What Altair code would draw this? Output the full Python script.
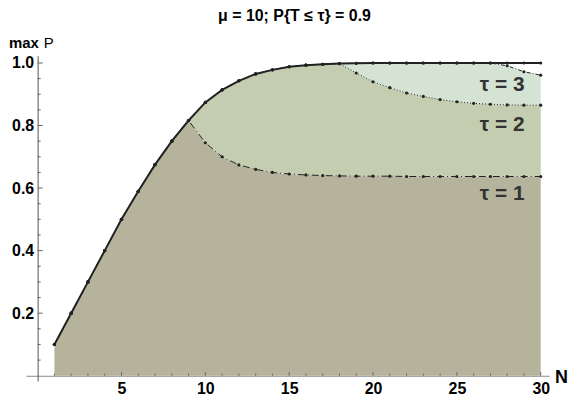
import altair as alt
import pandas as pd

# ---- data ----
N = list(range(1, 31))
p_upper = [0.100, 0.200, 0.300, 0.400, 0.500, 0.590, 0.675, 0.750, 0.816, 0.874,
           0.914, 0.943, 0.965, 0.978, 0.988, 0.993, 0.996, 0.998, 0.999, 1.000,
           1.000, 1.000, 1.000, 1.000, 1.000, 1.000, 1.000, 1.000, 1.000, 1.000]
p_tau1 = [0.100, 0.200, 0.300, 0.400, 0.500, 0.590, 0.675, 0.750, 0.816, 0.745,
          0.700, 0.674, 0.660, 0.650, 0.645, 0.642, 0.640, 0.639, 0.638, 0.638,
          0.638, 0.637, 0.637, 0.637, 0.637, 0.637, 0.637, 0.637, 0.637, 0.637]
p_tau2 = [0.100, 0.200, 0.300, 0.400, 0.500, 0.590, 0.675, 0.750, 0.816, 0.874,
          0.914, 0.943, 0.965, 0.978, 0.988, 0.993, 0.996, 0.998, 0.968, 0.940,
          0.921, 0.904, 0.893, 0.883, 0.876, 0.871, 0.868, 0.866, 0.865, 0.865]
p_tau3 = [0.100, 0.200, 0.300, 0.400, 0.500, 0.590, 0.675, 0.750, 0.816, 0.874,
          0.914, 0.943, 0.965, 0.978, 0.988, 0.993, 0.996, 0.998, 0.999, 1.000,
          1.000, 1.000, 1.000, 1.000, 1.000, 1.000, 1.000, 0.991, 0.972, 0.961]

x_major = [5, 10, 15, 20, 25, 30]
x_minor = [n for n in range(1, 31) if n % 5 != 0]
y_major = [0.2, 0.4, 0.6, 0.8, 1.0]
y_minor = [0.05, 0.10, 0.15, 0.25, 0.30, 0.35, 0.45, 0.50, 0.55, 0.65, 0.70,
           0.75, 0.85, 0.90, 0.95]

tau_labels = ["τ = 1", "τ = 2", "τ = 3"]
tau_label_x = [27.7, 27.7, 27.7]
tau_label_y = [0.581, 0.800, 0.928]

title_text = "μ = 10; P{T ≤ τ} = 0.9"

FONT = "Liberation Sans"
W, H = 526, 327
XDOM = [-0.7, 30.5]
YDOM = [-0.017, 1.023]

df = pd.DataFrame({"N": N, "up": p_upper, "t1": p_tau1, "t2": p_tau2, "t3": p_tau3, "zero": [0.0] * len(N)})

xs = alt.Scale(domain=XDOM, nice=False, zero=False)
ys = alt.Scale(domain=YDOM, nice=False, zero=False)

X = alt.X("N:Q", scale=xs,
          axis=alt.Axis(values=x_major, ticks=False, grid=False, title=None,
                        domainColor="#8a8a8a", domainWidth=1, offset=-5.3,
                        labelFont=FONT, labelFontSize=16, labelFontWeight="bold",
                        labelColor="black", labelPadding=5, labelFlush=False))

base = alt.Chart(df)

area1 = base.mark_area(color="#b5b39b", opacity=1).encode(
    x=X,
    y=alt.Y("t1:Q", scale=ys,
            axis=alt.Axis(values=y_major, format=".1f", ticks=False, grid=False, title=None,
                          domainColor="#555555", domainWidth=1, offset=-11.8,
                          labelFont=FONT, labelFontSize=16, labelFontWeight="bold",
                          labelColor="black", labelPadding=4)),
    y2="zero:Q")
area2 = base.mark_area(color="#c4cdb0", opacity=1).encode(x="N:Q", y="t2:Q", y2="t1:Q")
area3 = base.mark_area(color="#d4e3d4", opacity=1).encode(x="N:Q", y="t3:Q", y2="t2:Q")

line_t1 = base.mark_line(color="#222222", strokeWidth=1, strokeDash=[7, 3, 1, 3]).encode(x="N:Q", y="t1:Q")
line_t2 = base.mark_line(color="#222222", strokeWidth=1, strokeDash=[1, 2]).encode(x="N:Q", y="t2:Q")
line_t3 = base.mark_line(color="#222222", strokeWidth=1, strokeDash=[4, 2, 1, 2]).encode(x="N:Q", y="t3:Q")
line_up = base.mark_line(color="#222222", strokeWidth=2).encode(x="N:Q", y="up:Q")

pts = []
for col in ["t1", "t2", "t3", "up"]:
    pts.append(base.mark_circle(color="#222222", size=10, opacity=1).encode(x="N:Q", y=f"{col}:Q"))

# inward ticks
tx_major = pd.DataFrame({"v": x_major})
tx_minor = pd.DataFrame({"v": x_minor})
ty_major = pd.DataFrame({"v": y_major})
ty_minor = pd.DataFrame({"v": y_minor})

TICK = "#666666"
rx_maj = alt.Chart(tx_major).mark_rule(color=TICK, strokeWidth=1).encode(
    x="v:Q", y=alt.datum(0.0), y2=alt.datum(0.0115))
rx_min = alt.Chart(tx_minor).mark_rule(color=TICK, strokeWidth=1).encode(
    x="v:Q", y=alt.datum(0.0), y2=alt.datum(0.0068))
ry_maj = alt.Chart(ty_major).mark_rule(color=TICK, strokeWidth=1).encode(
    y="v:Q", x=alt.datum(0.0), x2=alt.datum(0.30))
ry_min = alt.Chart(ty_minor).mark_rule(color=TICK, strokeWidth=1).encode(
    y="v:Q", x=alt.datum(0.0), x2=alt.datum(0.18))

# tau labels
lab_df = pd.DataFrame({"t": tau_labels, "x": tau_label_x, "y": tau_label_y})
labels = alt.Chart(lab_df).mark_text(font=FONT, fontSize=21, fontWeight="bold", color="#333333",
                                     align="center", baseline="middle").encode(
    x="x:Q", y="y:Q", text="t:N")

# title and axis titles (annotation text)
title = alt.Chart(pd.DataFrame({"t": [title_text]})).mark_text(
    font=FONT, fontSize=16, fontWeight="bold", color="black", align="center", baseline="middle").encode(
    x=alt.value(270), y=alt.value(-40), text="t:N")
ymax = alt.Chart(pd.DataFrame({"t": ["max"]})).mark_text(
    font=FONT, fontSize=15, fontWeight="bold", color="black", align="left", baseline="middle").encode(
    x=alt.value(-17), y=alt.value(-13), text="t:N")
yP = alt.Chart(pd.DataFrame({"t": ["P"]})).mark_text(
    font=FONT, fontSize=15, fontWeight="normal", color="black", align="left", baseline="middle").encode(
    x=alt.value(18), y=alt.value(-13), text="t:N")
xN = alt.Chart(pd.DataFrame({"t": ["N"]})).mark_text(
    font=FONT, fontSize=18, fontWeight="bold", color="black", align="left", baseline="middle").encode(
    x=alt.value(532), y=alt.value(324), text="t:N")

chart = alt.layer(
    area1, area2, area3,
    rx_maj, rx_min, ry_maj, ry_min,
    line_t1, line_t2, line_t3, line_up,
    *pts,
    labels, title, ymax, yP, xN,
).properties(
    width=W, height=H,
    autosize=alt.AutoSizeParams(type="none"),
    padding={"left": 18, "top": 47, "right": 20, "bottom": 14},
).configure_view(stroke=None)

chart.save("out.html", embed_options={"renderer": "svg", "actions": False})
